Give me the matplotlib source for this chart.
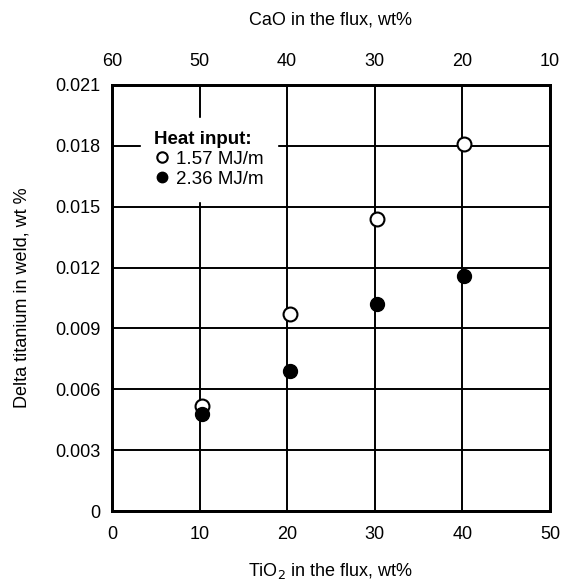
import matplotlib
matplotlib.use("Agg")
import matplotlib.pyplot as plt

plt.rcParams['font.family'] = ['Liberation Sans', 'DejaVu Sans']

# data
tio2 = [10.3, 20.3, 30.3, 40.2]
low_heat = [0.0052, 0.0097, 0.0144, 0.0181]    # 1.57 MJ/m
high_heat = [0.0048, 0.0069, 0.0102, 0.0116]   # 2.36 MJ/m

x_ticks = [0, 10, 20, 30, 40, 50]
cao_labels = ['60', '50', '40', '30', '20', '10']
y_ticks = [0, 0.003, 0.006, 0.009, 0.012, 0.015, 0.018, 0.021]
y_labels = ['0', '0.003', '0.006', '0.009', '0.012', '0.015', '0.018', '0.021']

fig = plt.figure(figsize=(5.67, 5.84), dpi=100)
ax = fig.add_axes([0.1975, 0.125, 0.7725, 0.7295])

ax.plot(tio2, low_heat, 'o', ms=10, mfc='white', mec='black', mew=1.5,
        label='1.57 MJ/m', zorder=3)
ax.plot(tio2, high_heat, 'o', ms=10, mfc='black', mec='black',
        label='2.36 MJ/m', zorder=3)

ax.set_xlim(0, 50)
ax.set_ylim(0, 0.021)
ax.set_xticks(x_ticks)
ax.set_xticklabels([str(t) for t in x_ticks])
ax.set_yticks(y_ticks)
ax.set_yticklabels(y_labels)
ax.grid(True, color='black', lw=1.4)
ax.tick_params(axis='y', length=0, labelsize=13, pad=8)
ax.tick_params(axis='x', length=0, labelsize=13, pad=11)
for s in ax.spines.values():
    s.set_linewidth(2)

ax.set_xlabel('TiO$_2$ in the flux, wt%', fontsize=13, labelpad=13)
ax.set_ylabel('Delta titanium in weld, wt %', fontsize=13, labelpad=18)

top = ax.twiny()
top.set_xlim(ax.get_xlim())
top.set_xticks(x_ticks)
top.set_xticklabels(cao_labels)
top.tick_params(length=0, labelsize=13, pad=11)
top.set_xlabel('CaO in the flux, wt%', fontsize=13, labelpad=20)
for s in top.spines.values():
    s.set_linewidth(2)

leg = ax.legend(loc='upper left', bbox_to_anchor=(0.045, 0.945),
                title='Heat input:', fontsize=13.5, markerscale=0.75,
                handletextpad=0.35, handlelength=0.8, borderpad=0.7,
                labelspacing=0.15, frameon=True, fancybox=False,
                edgecolor='white', framealpha=1, alignment='left')
leg.get_title().set_fontweight('bold')
leg.get_title().set_fontsize(13.5)
leg.set_zorder(5)

fig.savefig('out.png', dpi=100)
